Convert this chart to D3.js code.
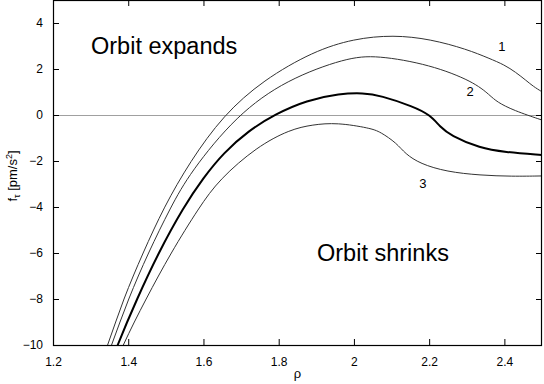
<!DOCTYPE html>
<meta charset="utf-8">
<body style="margin:0;background:#fff;">
<svg width="544" height="384"></svg>
</body>
<script src="https://cdn.jsdelivr.net/npm/d3@7"></script>
<script>
    // [rho, f_tau]
    let curve1 = [[1.30, -12], [1.346, -10], [1.387, -8], [1.439, -6], [1.495, -4], [1.564, -2.03], [1.653, 0], [1.759, 1.52],
        [1.892, 2.77], [2.0, 3.32], [2.105, 3.48], [2.203, 3.3], [2.3, 2.86], [2.36, 2.46], [2.4, 2.18], [2.43, 1.86],
        [2.458, 1.5], [2.477, 1.24], [2.5, 1.01]];
    let curve2 = [[1.31, -12], [1.356, -10], [1.40, -8], [1.453, -6], [1.513, -4], [1.564, -2.51], [1.688, 0], [1.821, 1.54],
        [1.98, 2.49], [2.06, 2.6], [2.203, 2.19], [2.318, 1.45], [2.362, 0.85], [2.38, 0.57],
        [2.424, 0.2], [2.5, -0.22]];
    let curveMain = [[1.325, -12], [1.371, -10], [1.423, -8], [1.48, -6], [1.547, -4], [1.6, -2.72], [1.653, -1.65],
        [1.72, -0.68], [1.79, 0.03], [1.874, 0.64], [1.963, 0.93], [2.025, 0.96], [2.07, 0.85], [2.158, 0.37], [2.203, 0.0],
        [2.229, -0.51], [2.256, -0.88], [2.336, -1.45], [2.4, -1.61], [2.5, -1.74]];
    let curve3 = [[1.335, -12], [1.385, -10], [1.447, -8], [1.513, -6], [1.589, -4], [1.642, -2.8], [1.742, -1.38],
        [1.83, -0.63], [1.89, -0.42], [1.955, -0.33], [2.043, -0.57], [2.07, -0.73], [2.114, -1.23], [2.136, -1.68],
        [2.176, -2.12], [2.247, -2.47], [2.336, -2.62], [2.42, -2.67], [2.5, -2.65]];
    let xTicks = [1.2, 1.4, 1.6, 1.8, 2, 2.2, 2.4];
    let yTicks = [-10, -8, -6, -4, -2, 0, 2, 4];
    let curveLabels = [["1", 2.393, 2.97], ["2", 2.309, 1.01], ["3", 2.183, -2.97]];

    let svg = d3.select("svg"),
        mLeft = 53, mRight = 542, mTop = 0, mBottom = 345;
    let x = d3.scaleLinear().domain([1.2, 2.5]).range([mLeft, mRight]),
        y = d3.scaleLinear().domain([-10, 5]).range([mBottom, mTop]);
    let font = "'Liberation Sans', Arial, sans-serif";

    svg.append("clipPath").attr("id", "clip")
        .append("rect").attr("x", mLeft).attr("y", mTop).attr("width", mRight - mLeft).attr("height", mBottom - mTop);

    // zero line
    svg.append("line")
        .attr("x1", mLeft).attr("x2", mRight)
        .attr("y1", Math.round(y(0)) + 0.5).attr("y2", Math.round(y(0)) + 0.5)
        .attr("stroke", "#a0a0a0").attr("stroke-width", 1);

    let line = d3.line().x(d => x(d[0])).y(d => y(d[1])).curve(d3.curveBasis);
    let g = svg.append("g").attr("clip-path", "url(#clip)");
    [curve1, curve2, curve3].forEach(c => {
        g.append("path").datum(c).attr("d", line)
            .attr("fill", "none").attr("stroke", "#333").attr("stroke-width", 1);
    });
    g.append("path").datum(curveMain).attr("d", line)
        .attr("fill", "none").attr("stroke", "#000").attr("stroke-width", 2);

    // axes (gnuplot style: ticks inward on all sides)
    let tl = 6;
    let axB = d3.axisBottom(x).tickValues(xTicks).tickSizeInner(-tl).tickSizeOuter(0).tickPadding(12).tickFormat(d3.format("~g"));
    let axT = d3.axisTop(x).tickValues(xTicks).tickSizeInner(-tl).tickSizeOuter(0).tickFormat("");
    let axL = d3.axisLeft(y).tickValues(yTicks).tickSizeInner(-tl).tickSizeOuter(0).tickPadding(10).tickFormat(d3.format("~g"));
    let axR = d3.axisRight(y).tickValues(yTicks).tickSizeInner(-tl).tickSizeOuter(0).tickFormat("");
    svg.append("g").attr("transform", `translate(0,${mBottom})`).call(axB);
    svg.append("g").attr("transform", `translate(0,${mTop})`).call(axT);
    svg.append("g").attr("transform", `translate(${mLeft},0)`).call(axL);
    svg.append("g").attr("transform", `translate(${mRight},0)`).call(axR);
    svg.selectAll(".domain").remove();
    svg.selectAll(".tick text").attr("font-family", font).attr("font-size", 12).attr("fill", "#000");
    svg.selectAll(".tick line").attr("stroke", "#000");

    svg.append("rect")
        .attr("x", mLeft + 0.5).attr("y", mTop + 0.5)
        .attr("width", mRight - mLeft - 1).attr("height", mBottom - mTop)
        .attr("fill", "none").attr("stroke", "#000").attr("stroke-width", 1.2);

    // curve numbers
    svg.selectAll(".clab").data(curveLabels).join("text")
        .attr("x", d => x(d[1])).attr("y", d => y(d[2]))
        .attr("text-anchor", "middle").attr("dominant-baseline", "central")
        .attr("font-family", font).attr("font-size", 13)
        .text(d => d[0]);

    svg.append("text").attr("x", 91).attr("y", 54)
        .attr("font-family", font).attr("font-size", 23.5).text("Orbit expands");
    svg.append("text").attr("x", 317).attr("y", 261)
        .attr("font-family", font).attr("font-size", 23.5).text("Orbit shrinks");

    // axis titles
    svg.append("text").attr("x", (mLeft + mRight) / 2).attr("y", 378)
        .attr("text-anchor", "middle").attr("font-family", font).attr("font-size", 13).text("ρ");
    let yt = svg.append("text").attr("transform", "translate(17,176) rotate(-90)")
        .attr("text-anchor", "middle").attr("font-family", font).attr("font-size", 13);
    yt.append("tspan").text("f");
    yt.append("tspan").attr("font-size", 9).attr("dy", 3).text("τ");
    yt.append("tspan").attr("dy", -3).text(" [pm/s");
    yt.append("tspan").attr("font-size", 9).attr("dy", -5).text("2");
    yt.append("tspan").attr("dy", 5).text("]");
</script>
